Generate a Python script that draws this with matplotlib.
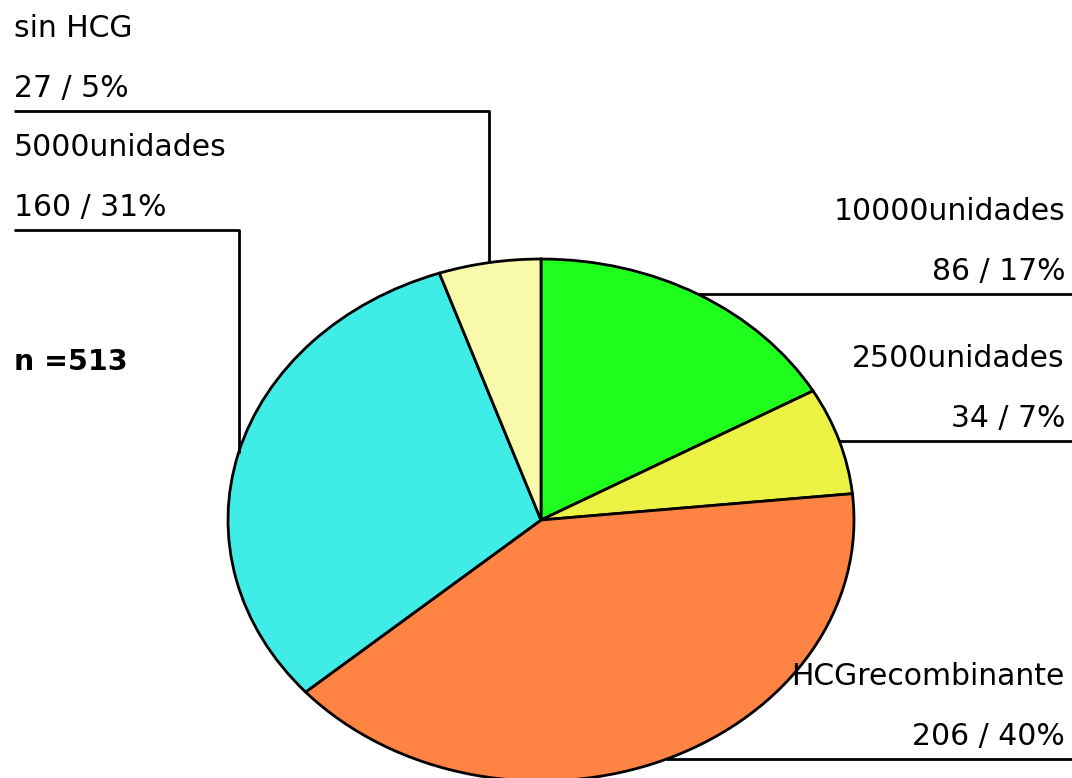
import numpy as np
import matplotlib.pyplot as plt

plt.rcParams['font.family'] = ['DejaVu Sans']

# datos de la grafica (sentido horario desde arriba)
categorias = ['10000unidades', '2500unidades', 'HCGrecombinante', '5000unidades', 'sin HCG']
valores = [86, 34, 206, 160, 27]
colores = ['#1EFF1E', '#EBF244', '#FF8444', '#40ECE6', '#F9F9AA']
total = sum(valores)

W, H = 1072, 778
fig = plt.figure(figsize=(W / 100, H / 100), dpi=100)

# elipse del pastel en pixeles
cx, cy, rx, ry = 541, 520, 313, 261
ax = fig.add_axes([(cx - rx) / W, (H - cy - ry) / H, 2 * rx / W, 2 * ry / H])
ax.pie(valores, colors=colores, startangle=90, counterclock=False, radius=1,
       wedgeprops=dict(edgecolor='black', linewidth=2))
ax.set_aspect('auto')
ax.set_xlim(-1, 1)
ax.set_ylim(-1, 1)
ax.axis('off')

# capa para lineas y textos en pixeles
ov = fig.add_axes([0, 0, 1, 1], zorder=5)
ov.set_xlim(0, W)
ov.set_ylim(H, 0)
ov.axis('off')

# lado de cada etiqueta y altura de la linea (None = a la altura del punto)
lado = ['der', 'der', 'der', 'izq', 'izq']
linea_y = [None, None, None, 230, 111]

acum = 0
for i, v in enumerate(valores):
    ang = np.deg2rad(90 - 360 * (acum + v / 2) / total)
    acum += v
    px = cx + rx * np.cos(ang)
    py = cy - ry * np.sin(ang)
    pct = round(100 * v / total)
    if lado[i] == 'der':
        ly = py
        ov.plot([px, W], [ly, ly], color='black', lw=2, solid_capstyle='butt')
        xt, ha = 1065, 'right'
    else:
        ly = linea_y[i]
        ov.plot([px, px, 14], [py, ly, ly], color='black', lw=2, solid_capstyle='butt')
        xt, ha = 14, 'left'
    ov.text(xt, ly - 14, f'{v} / {pct}%', fontsize=21.5, ha=ha, va='baseline')
    ov.text(xt, ly - 74, categorias[i], fontsize=21.5, ha=ha, va='baseline')

ov.text(14, 370, f'n ={total}', fontsize=20.5, fontweight='bold', ha='left', va='baseline')

fig.savefig('out.png', dpi=100)
